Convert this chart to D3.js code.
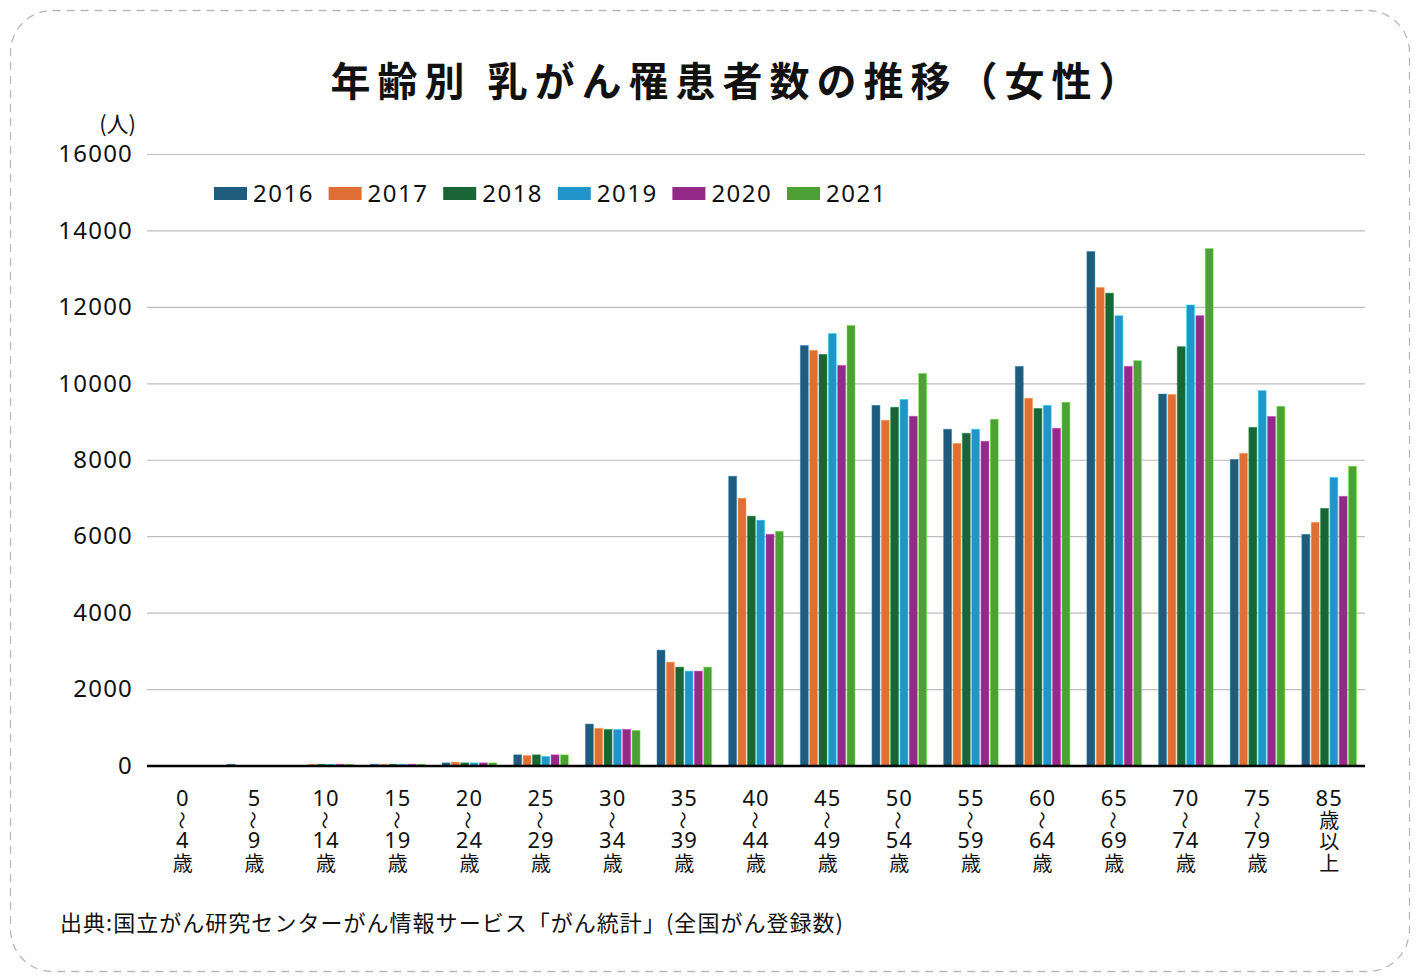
<!DOCTYPE html>
<html><head><meta charset="utf-8">
<script src="https://cdn.jsdelivr.net/npm/d3@7"></script>
<style>
html,body{margin:0;padding:0;background:#fff;}
svg text{font-family:"Noto Sans CJK JP","Noto Sans",sans-serif;}
</style></head>
<body><svg id="c" width="1420" height="980"></svg>
<script>
const categories = ["0-4","5-9","10-14","15-19","20-24","25-29","30-34","35-39","40-44","45-49","50-54","55-59","60-64","65-69","70-74","75-79","85+"];
const catLabels = [
  ["0","~","4","歳"],["5","~","9","歳"],["10","~","14","歳"],["15","~","19","歳"],
  ["20","~","24","歳"],["25","~","29","歳"],["30","~","34","歳"],["35","~","39","歳"],
  ["40","~","44","歳"],["45","~","49","歳"],["50","~","54","歳"],["55","~","59","歳"],
  ["60","~","64","歳"],["65","~","69","歳"],["70","~","74","歳"],["75","~","79","歳"],
  ["85","歳","以","上"]
];
const years = ["2016","2017","2018","2019","2020","2021"];
const colors = ["#1e5b7c","#e06f36","#1a6535","#2195c9","#932a87","#4ca036"];
const v2016 = [2,35,5,35,70,280,1085,3020,7570,10990,9425,8800,10445,13450,9720,8010,6050];
const v2017 = [1,3,35,35,90,260,975,2705,6995,10865,9035,8430,9610,12510,9710,8170,6365];
const v2018 = [1,3,35,35,70,280,945,2575,6525,10760,9375,8695,9345,12360,10960,8850,6730];
const v2019 = [1,3,35,35,70,240,945,2470,6420,11305,9580,8800,9425,11770,12050,9810,7540];
const v2020 = [1,3,35,35,70,280,945,2470,6050,10470,9140,8485,8825,10445,11770,9135,7045];
const v2021 = [1,3,35,35,70,280,920,2575,6130,11515,10260,9060,9505,10595,13530,9400,7830];
const series = [v2016,v2017,v2018,v2019,v2020,v2021];
const yTicks = [0,2000,4000,6000,8000,10000,12000,14000,16000];

const svg = d3.select("#c");
// border
svg.append("rect").attr("x",10.5).attr("y",10.5).attr("width",1399).attr("height",961)
  .attr("rx",42).attr("ry",42).attr("fill","none").attr("stroke","#b8b8b8")
  .attr("stroke-width",1.3).attr("stroke-dasharray","8,6");

// title
svg.append("text").attr("x",738).attr("y",96).attr("text-anchor","middle")
  .attr("font-size",40).attr("font-weight",700).attr("letter-spacing",7).attr("fill","#111")
  .text("年齢別 乳がん罹患者数の推移（女性）");

const L = 147, R = 1365, T = 154, B = 765.5;
const x = d3.scaleBand().domain(categories).range([L,R]).paddingInner(0.2).paddingOuter(0.1);
const xs = d3.scaleBand().domain(years).range([0,x.bandwidth()]).padding(0.14);
const y = d3.scaleLinear().domain([0,16000]).range([B,T]);

// gridlines
const yAxis = d3.axisLeft(y).tickValues(yTicks).tickSize(-(R-L)).tickFormat(d=>String(d)).tickPadding(14);
const gy = svg.append("g").attr("transform",`translate(${L},0)`).call(yAxis);
gy.select(".domain").remove();
gy.selectAll(".tick line").attr("stroke","#bdbdbd").attr("stroke-width",1.2);
gy.selectAll(".tick text").attr("font-size",24).attr("fill","#111").attr("letter-spacing",1.2)
  .style("font-family","'Noto Sans',sans-serif");

svg.append("text").attr("x",136).attr("y",132).attr("text-anchor","end")
  .attr("font-size",22).attr("fill","#111").text("(人)");

// bars
const groups = svg.append("g").selectAll("g").data(categories).join("g")
  .attr("transform",d=>`translate(${x(d)},0)`);
groups.selectAll("rect").data((d,i)=>years.map((yr,k)=>({yr,k,v:series[k][i]}))).join("rect")
  .attr("x",d=>xs(d.yr)).attr("width",xs.bandwidth())
  .attr("y",d=>y(d.v)).attr("height",d=>B-y(d.v))
  .attr("fill",d=>colors[d.k])
  .attr("stroke",d=>d3.color(colors[d.k]).brighter(1.2)).attr("stroke-width",0.8).attr("stroke-opacity",0.6);

// baseline axis
svg.append("line").attr("x1",L).attr("x2",R).attr("y1",B+0.5).attr("y2",B+0.5)
  .attr("stroke","#000").attr("stroke-width",2.5);

// x labels
const lh = 21.2;
categories.forEach((c,i)=>{
  const cx = x(c)+x.bandwidth()/2;
  catLabels[i].forEach((t,j)=>{
    const by = 806 + j*lh;
    if(t==="~"){
      svg.append("text").attr("x",0).attr("y",0).attr("text-anchor","middle")
        .attr("dominant-baseline","central")
        .attr("transform",`translate(${cx},${by-7}) rotate(90)`)
        .attr("font-size",18).attr("fill","#111").text("〜");
    } else {
      const isNum = /^[0-9]+$/.test(t);
      svg.append("text").attr("x",cx).attr("y",isNum?by:by+1).attr("text-anchor","middle")
        .attr("font-size",isNum?22:20).attr("fill","#111").attr("letter-spacing",isNum?1:0)
        .style("font-family",isNum?"'Noto Sans',sans-serif":"'Noto Sans CJK JP',sans-serif")
        .text(t);
    }
  });
});

// legend
const lg = svg.append("g");
years.forEach((yr,k)=>{
  const lx = 214 + k*114.6;
  lg.append("rect").attr("x",lx).attr("y",187).attr("width",33).attr("height",13).attr("fill",colors[k]);
  lg.append("text").attr("x",lx+39).attr("y",202).attr("font-size",24).attr("fill","#111")
    .attr("letter-spacing",1.5)
    .style("font-family","'Noto Sans',sans-serif").text(yr);
});

// source
svg.append("text").attr("x",60).attr("y",931).attr("font-size",22).attr("fill","#111")
  .attr("textLength",783).attr("lengthAdjust","spacing")
  .text("出典:国立がん研究センターがん情報サービス「がん統計」(全国がん登録数)");
</script></body></html>
